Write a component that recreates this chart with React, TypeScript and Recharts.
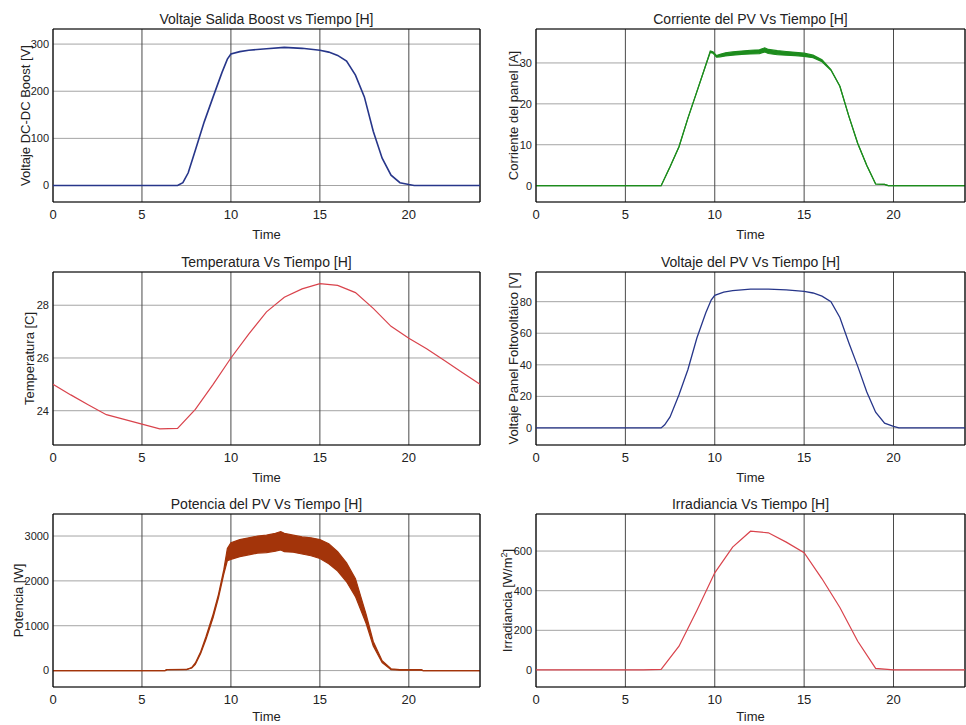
import React from "react";
import { Area, CartesianGrid, ComposedChart, Line, ReferenceArea, XAxis, YAxis } from "recharts";

// time axis shared by every panel
const hours = [0, 1, 2, 3, 4, 5, 6, 7, 8, 9, 10, 11, 12, 13, 14, 15, 16, 17, 18, 19, 20, 21, 22, 23, 24];
const xTicks = [0, 5, 10, 15, 20];

// Voltaje salida boost
const boostT = [0, 7.0, 7.3, 7.6, 8.0, 8.5, 9.0, 9.5, 9.8, 10.0, 10.5, 11, 12, 13, 14, 15, 15.5, 16, 16.5, 17, 17.5, 18, 18.5, 19, 19.5, 20, 20.3, 24];
const boostV = [0, 0, 6, 27, 75, 135, 188, 240, 268, 279, 284, 287, 290, 293, 291, 287, 283, 276, 264, 234, 188, 115, 58, 22, 6, 2, 0, 0];
const boostTicks = [0, 100, 200, 300];

// Corriente del panel (band = ripple)
const currentT = [0, 7.0, 7.5, 8.0, 8.5, 9.0, 9.5, 9.75, 9.9, 10.1, 10.3, 10.6, 11, 11.5, 12, 12.5, 12.8, 13, 13.5, 14, 14.5, 15, 15.5, 16, 16.5, 17, 17.5, 18, 18.5, 19, 19.5, 19.7, 24];
const currentLo = [0, 0, 4.6, 9.5, 16.5, 23, 29.5, 32.6, 32.4, 31.4, 31.5, 31.7, 31.9, 32.1, 32.2, 32.3, 32.7, 32.3, 32.0, 31.9, 31.8, 31.6, 31.3, 30.3, 28.2, 24.3, 17, 10.3, 5, 0.4, 0.3, 0, 0];
const currentHi = [0, 0, 4.6, 9.5, 16.5, 23, 29.5, 32.9, 32.7, 31.8, 32.1, 32.5, 32.7, 32.9, 33.1, 33.2, 33.7, 33.3, 33.0, 32.8, 32.6, 32.4, 31.9, 30.8, 28.4, 24.3, 17, 10.3, 5, 0.4, 0.3, 0, 0];
const currentTicks = [0, 10, 20, 30];

// Temperatura (hourly)
const tempC = [25.0, 24.6, 24.22, 23.85, 23.67, 23.49, 23.31, 23.33, 24.05, 25.0, 26.0, 26.9, 27.75, 28.3, 28.62, 28.82, 28.75, 28.48, 27.88, 27.2, 26.75, 26.35, 25.9, 25.45, 25.0];
const tempTicks = [24, 26, 28];

// Voltaje del PV
const pvT = [0, 7.0, 7.2, 7.5, 8.0, 8.5, 9.0, 9.5, 9.8, 10.0, 10.5, 11, 12, 13, 14, 15, 15.5, 16, 16.5, 17, 17.5, 18, 18.5, 19, 19.5, 20, 20.3, 24];
const pvV = [0, 0, 2, 7, 21, 37, 57, 73, 81, 84, 86, 87, 88, 88, 87.5, 86.5, 85.5, 83.5, 80, 70, 54, 39, 23, 10, 3, 1, 0, 0];
const pvTicks = [0, 20, 40, 60, 80];

// Potencia del PV (band = ripple)
const powerT = [0, 6.3, 6.4, 7.5, 7.8, 8.0, 8.3, 8.6, 9.0, 9.3, 9.6, 9.8, 10, 10.5, 11, 11.5, 12, 12.5, 12.8, 13, 13.5, 14, 14.5, 15, 15.5, 16, 16.5, 17, 17.3, 17.6, 18, 18.5, 19, 19.5, 20.7, 20.8, 24];
const powerLo = [0, 0, 20, 20, 60, 140, 380, 700, 1180, 1620, 2150, 2450, 2480, 2540, 2580, 2620, 2630, 2660, 2690, 2650, 2640, 2600, 2560, 2500, 2380, 2220, 1980, 1650, 1350, 1050, 550, 180, 20, 10, 10, 0, 0];
const powerHi = [0, 0, 20, 25, 70, 170, 420, 760, 1260, 1700, 2250, 2720, 2850, 2920, 2960, 3000, 3020, 3060, 3100, 3060, 3020, 2980, 2960, 2920, 2830, 2650, 2400, 2050, 1650, 1250, 650, 220, 40, 20, 20, 0, 0];
const powerTicks = [0, 1000, 2000, 3000];

// Irradiancia (hourly)
const irrad = [0, 0, 0, 0, 0, 0, 0, 3, 120, 300, 490, 620, 700, 692, 645, 592, 460, 315, 145, 8, 0, 0, 0, 0, 0];
const irradTicks = [0, 200, 400, 600];

const boostData = boostT.map((t, i) => ({ t, v: boostV[i] }));
const currentData = currentT.map((t, i) => ({ t, band: [currentLo[i], currentHi[i]] }));
const tempData = hours.map((t, i) => ({ t, v: tempC[i] }));
const pvData = pvT.map((t, i) => ({ t, v: pvV[i] }));
const powerData = powerT.map((t, i) => ({ t, band: [powerLo[i], powerHi[i]] }));
const irradData = hours.map((t, i) => ({ t, v: irrad[i] }));

const BLUE = "#27368a";
const GREEN = "#1d8c1d";
const RED = "#d9434c";
const BROWN = "#a3340a";
const TEXT = "#222";

function VLabel({ viewBox, text, sup, lx }: any) {
  // rotated label, lx = horizontal centre of the glyphs inside the y-axis area
  const cx = viewBox.x + lx + 4.5;
  const cy = viewBox.y + viewBox.height / 2;
  return (
    <text x={cx} y={cy} transform={`rotate(-90 ${cx} ${cy})`} textAnchor="middle" fontSize={13} fill={TEXT}>
      {text}
      {sup ? (
        <>
          <tspan dy={-5} fontSize={9}>{sup}</tspan>
          <tspan dy={5}>]</tspan>
        </>
      ) : null}
    </text>
  );
}

function Panel({ left, top, plotW, title, yLabel, sup, lx, timeOffset = 8, data, domain, ticks, children }: any) {
  const w = 53 + plotW + 1;
  const h = 247;
  return (
    <div style={{ position: "absolute", left, top, width: w, height: h }}>
      <div
        style={{
          position: "absolute",
          left: 53,
          top: 12,
          width: plotW,
          textAlign: "center",
          fontSize: 14,
          lineHeight: "14px",
          color: TEXT,
          whiteSpace: "nowrap",
        }}
      >
        {title}
      </div>
      <ComposedChart width={w} height={h} data={data} margin={{ top: 29, right: 1, bottom: 0, left: 0 }}>
        <CartesianGrid vertical={false} stroke="#a4a4a4" />
        <CartesianGrid horizontal={false} stroke="#4a4a4a" />
        <XAxis
          type="number"
          dataKey="t"
          domain={[0, 24]}
          ticks={xTicks}
          allowDataOverflow
          height={45}
          tickLine={false}
          axisLine={false}
          tick={{ fill: TEXT, fontSize: 13 }}
          label={{ value: "Time", position: "insideBottom", offset: timeOffset, fill: TEXT, fontSize: 13 }}
        />
        <YAxis
          type="number"
          domain={domain}
          ticks={ticks}
          allowDataOverflow
          width={53}
          tickLine={false}
          axisLine={false}
          tickSize={2}
          tickMargin={2}
          tick={{ fill: TEXT, fontSize: 11 }}
          label={<VLabel text={yLabel} sup={sup} lx={lx} />}
        />
        {children}
        <ReferenceArea
          x1={0}
          x2={24}
          y1={domain[0]}
          y2={domain[1]}
          fill="none"
          fillOpacity={0}
          stroke="#000"
          strokeWidth={1}
          ifOverflow="visible"
        />
      </ComposedChart>
    </div>
  );
}

export default function App() {
  return (
    <div
      style={{
        position: "absolute",
        left: 0,
        top: 0,
        width: 966,
        height: 725,
        overflow: "hidden",
        background: "#fff",
        fontFamily: "'Liberation Sans', Arial, sans-serif",
      }}
    >
      <Panel left={0} top={0} plotW={427} title="Voltaje Salida Boost vs Tiempo [H]" yLabel="Voltaje DC-DC Boost [V]" lx={25} data={boostData} domain={[-35, 332]} ticks={boostTicks}>
        <Line type="linear" dataKey="v" stroke={BLUE} strokeWidth={1.6} dot={false} isAnimationActive={false} />
      </Panel>
      <Panel left={483} top={0} plotW={429} title="Corriente del PV Vs Tiempo [H]" yLabel="Corriente del panel [A]" lx={30} data={currentData} domain={[-4, 38.3]} ticks={currentTicks}>
        <Area type="linear" dataKey="band" stroke={GREEN} strokeWidth={1.2} fill={GREEN} fillOpacity={1} dot={false} isAnimationActive={false} />
      </Panel>
      <Panel left={0} top={243} plotW={427} title="Temperatura Vs Tiempo [H]" yLabel="Temperatura [C]" lx={29} data={tempData} domain={[22.7, 29.26]} ticks={tempTicks}>
        <Line type="linear" dataKey="v" stroke={RED} strokeWidth={1.2} dot={false} isAnimationActive={false} />
      </Panel>
      <Panel left={483} top={243} plotW={429} title="Voltaje del PV Vs Tiempo [H]" yLabel="Voltaje Panel Foltovoltáico [V]" lx={30} data={pvData} domain={[-10.8, 98.8]} ticks={pvTicks}>
        <Line type="linear" dataKey="v" stroke={BLUE} strokeWidth={1.3} dot={false} isAnimationActive={false} />
      </Panel>
      <Panel left={0} top={485} plotW={427} title="Potencia del PV Vs Tiempo [H]" yLabel="Potencia [W]" lx={18} timeOffset={11} data={powerData} domain={[-366, 3491]} ticks={powerTicks}>
        <Area type="linear" dataKey="band" stroke={BROWN} strokeWidth={1.2} fill={BROWN} fillOpacity={1} dot={false} isAnimationActive={false} />
      </Panel>
      <Panel left={483} top={485} plotW={429} title="Irradiancia Vs Tiempo [H]" yLabel="Irradiancia [W/m" sup="2" lx={24} timeOffset={11} data={irradData} domain={[-86, 787]} ticks={irradTicks}>
        <Line type="linear" dataKey="v" stroke={RED} strokeWidth={1.2} dot={false} isAnimationActive={false} />
      </Panel>
    </div>
  );
}
